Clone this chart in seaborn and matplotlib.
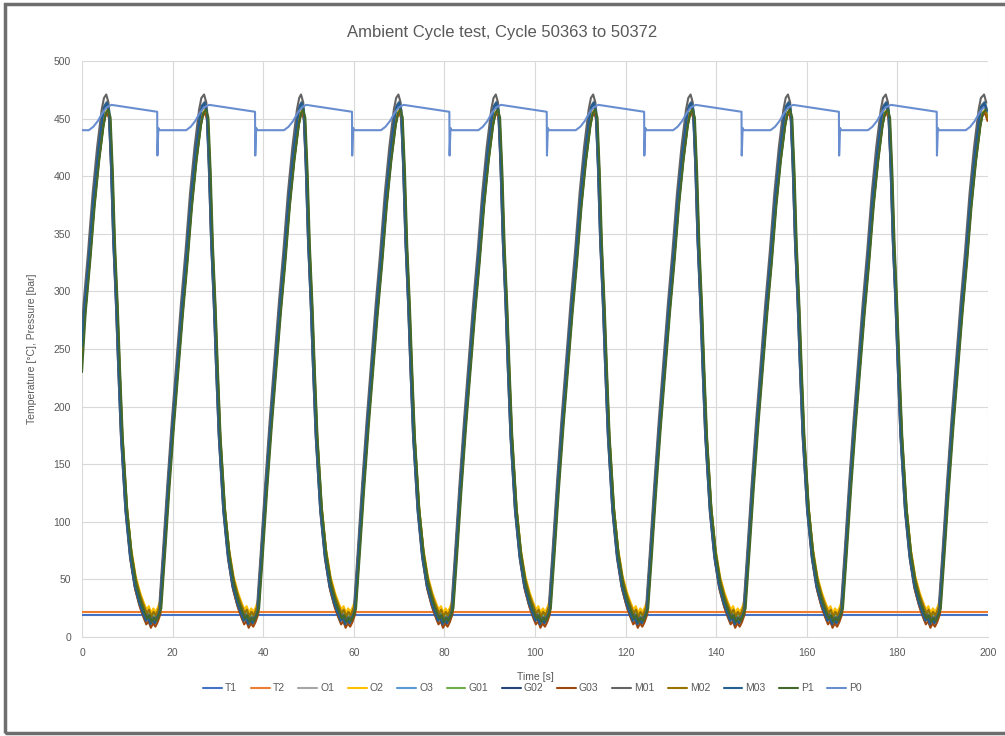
import numpy as np
import pandas as pd
import matplotlib
matplotlib.use("Agg")
import matplotlib.pyplot as plt
import seaborn as sns
from matplotlib.patches import Rectangle

sns.set_style("white")
plt.rcParams['font.family'] = ['Liberation Sans Narrow', 'Liberation Sans', 'DejaVu Sans']

# --- data ---
series_names = ['T1', 'T2', 'O1', 'O2', 'O3', 'G01', 'G02', 'G03', 'M01', 'M02', 'M03', 'P1', 'P0']
series_colors = ['#4472C4', '#ED7D31', '#A5A5A5', '#FFC000', '#5B9BD5', '#70AD47', '#264478',
                 '#9E480E', '#636363', '#997300', '#255E91', '#43682B', '#698ED0']

# peak times of the temperature cycles [s]
peak_times = [5.5, 27.1, 48.5, 70.0, 91.5, 113.0, 134.5, 156.0, 177.6, 199.3]

# one temperature cycle, time relative to the peak [s] and value [°C]
cycle_t = [0.0, 0.5, 1.0, 1.5, 2.1, 2.6, 3.2, 4.2, 5.2, 6.2, 7.2, 8.0, 8.6, 9.1, 9.6,
           10.1, 10.6, 11.1, 11.7, 12.5, 13.5, 14.5, 15.5, 16.5, 17.5, 18.5, 19.5, 20.5, 21.0]
cycle_v = [465, 458, 410, 345, 290, 235, 175, 110, 70, 45, 30, 21, 15, 18, 12,
           16, 13, 17, 24, 70, 130, 185, 235, 285, 330, 380, 420, 452, 462]

# per sensor: peak, minimum, lag [s] and value at t=0
temp_sensors = ['O1', 'O2', 'O3', 'G01', 'G02', 'G03', 'M01', 'M02', 'M03', 'P1']
temp_peak = [465, 458, 462, 456, 463, 455, 471, 457, 464, 458]
temp_min = [15, 21, 14, 17, 11, 8, 14, 18, 11, 13]
temp_lag = [0.0, 0.15, -0.05, 0.2, -0.1, 0.1, -0.15, 0.2, 0.0, 0.3]
temp_start = [262, 258, 255, 250, 265, 245, 268, 240, 252, 230]

# ambient sensors (flat)
t1_level = [19.5, 19.5]
t2_level = [21.5, 21.5]
flat_t = [0, 200]

# pressure P0 over one cycle, time relative to the temperature peak
p_cycle_t = [1.0, 11.1, 11.15, 11.35, 11.6, 17.5, 18.5, 19.5, 20.5, 21.5]
p_cycle_v = [462, 456, 418, 442, 440, 440, 443, 448, 455, 460]
p_start = 440

# --- build long table ---
rows = []
for name, lvl in (('T1', t1_level), ('T2', t2_level)):
    for t, v in zip(flat_t, lvl):
        rows.append((name, t, v))

base_min, base_max = min(cycle_v), max(cycle_v)
for name, pk, mn, lag, st in zip(temp_sensors, temp_peak, temp_min, temp_lag, temp_start):
    rows.append((name, 0.0, st))
    for p in [peak_times[0] - 21.5] + peak_times:
        for rt, rv in zip(cycle_t, cycle_v):
            t = p + rt + lag
            if 0 < t <= 200:
                v = mn + (rv - base_min) * (pk - mn) / (base_max - base_min)
                rows.append((name, t, v))

rows.append(('P0', 0.0, p_start))
for p in [peak_times[0] - 21.5] + peak_times:
    for rt, rv in zip(p_cycle_t, p_cycle_v):
        t = p + rt
        if 0 < t <= 200:
            rows.append(('P0', t, rv))

df = pd.DataFrame(rows, columns=['series', 'time', 'value'])

# --- plot ---
fig = plt.figure(figsize=(10.05, 7.36), dpi=100)
ax = fig.add_axes([0.0816, 0.1345, 0.9014, 0.7825])

sns.lineplot(data=df, x='time', y='value', hue='series', hue_order=series_names,
             palette=dict(zip(series_names, series_colors)), estimator=None, sort=False,
             linewidth=1.5, ax=ax)

ax.set_xlim(0, 200)
ax.set_ylim(0, 500)
ax.set_xticks(range(0, 201, 20))
ax.set_yticks(range(0, 501, 50))
ax.grid(True, color='#D9D9D9', linewidth=0.8)
ax.set_axisbelow(True)
for s in ['top', 'right', 'left']:
    ax.spines[s].set_visible(False)
ax.spines['bottom'].set_color('#D9D9D9')
ax.tick_params(length=0, labelsize=7.5, labelcolor='#595959', pad=8)

ax.set_xlabel('Time [s]', fontsize=7.5, color='#595959', labelpad=10)
ax.set_ylabel('Temperature [°C], Pressure [bar]', fontsize=7.5, color='#595959', labelpad=12)
fig.suptitle('Ambient Cycle test, Cycle 50363 to 50372', fontsize=12, color='#595959', y=0.966)

sns.move_legend(ax, 'center', bbox_to_anchor=(0.53, 0.065), bbox_transform=fig.transFigure,
                ncol=13, frameon=False, title=None, fontsize=7.5, handlelength=1.8,
                handletextpad=0.3, columnspacing=1.3)
for txt in ax.get_legend().get_texts():
    txt.set_color('#595959')

fig.patches.append(Rectangle((0.005, 0.004), 1.2, 0.99, transform=fig.transFigure,
                             fill=False, edgecolor='#6E6E6E', linewidth=2.5))

fig.savefig('out.png', dpi=100)
